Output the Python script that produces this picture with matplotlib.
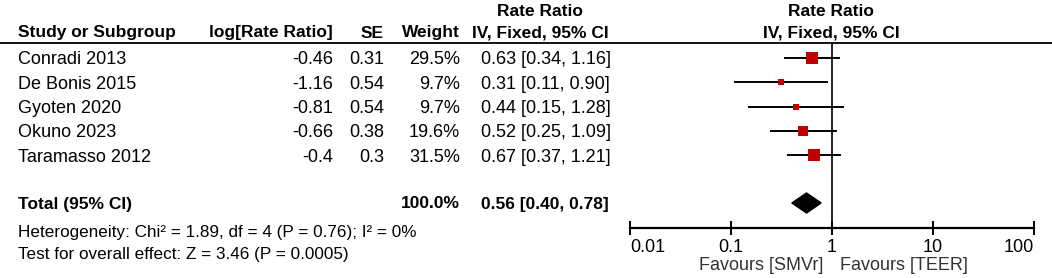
import matplotlib
matplotlib.use("Agg")
import matplotlib.pyplot as plt
import numpy as np

plt.rcParams["font.family"] = ["Liberation Sans", "DejaVu Sans"]

# study data
studies = ["Conradi 2013", "De Bonis 2015", "Gyoten 2020", "Okuno 2023", "Taramasso 2012"]
log_rr = ["-0.46", "-1.16", "-0.81", "-0.66", "-0.4"]
se = ["0.31", "0.54", "0.54", "0.38", "0.3"]
weight = [29.5, 9.7, 9.7, 19.6, 31.5]
rr = [0.63, 0.31, 0.44, 0.52, 0.67]
rr_lo = [0.34, 0.11, 0.15, 0.25, 0.37]
rr_hi = [1.16, 0.90, 1.28, 1.09, 1.21]

total_rr, total_lo, total_hi = 0.56, 0.40, 0.78
het_text = "Heterogeneity: Chi\u00b2 = 1.89, df = 4 (P = 0.76); I\u00b2 = 0%"
test_text = "Test for overall effect: Z = 3.46 (P = 0.0005)"
ticks = [0.01, 0.1, 1, 10, 100]
tick_labels = ["0.01", "0.1", "1", "10", "100"]

W, H = 1052, 278
fs = 13      # regular text
fsb = 12.5   # bold headers
fss = 12.3   # summary lines
red = "#c00000"

fig = plt.figure(figsize=(W / 100, H / 100), dpi=100)

# text layer, pixel-like coordinates
ax_t = fig.add_axes([0, 0, 1, 1])
ax_t.set_xlim(0, W)
ax_t.set_ylim(H, 0)
ax_t.axis("off")

# forest layer
top_px, bot_px = 43, 228
left_px, right_px = 630, 1034
ax_f = fig.add_axes([left_px / W, 1 - bot_px / H, (right_px - left_px) / W, (bot_px - top_px) / H])
ax_f.set_xscale("log")
ax_f.set_xlim(0.01, 100)
ax_f.set_ylim(bot_px, top_px)
ax_f.patch.set_alpha(0)

row_y = [58 + 24.25 * i for i in range(len(studies))]
total_y = 203

# headers
ax_t.text(540, 11, "Rate Ratio", fontsize=fsb, fontweight="bold", ha="center", va="center")
ax_t.text(831, 11, "Rate Ratio", fontsize=fsb, fontweight="bold", ha="center", va="center")
hy = 33
ax_t.text(18, hy, "Study or Subgroup", fontsize=fsb, fontweight="bold", ha="left", va="center")
ax_t.text(333, hy, "log[Rate Ratio]", fontsize=fsb, fontweight="bold", ha="right", va="center")
ax_t.text(384, hy, "SE", fontsize=fsb, fontweight="bold", ha="right", va="center")
ax_t.text(460, hy, "Weight", fontsize=fsb, fontweight="bold", ha="right", va="center")
ax_t.text(540, hy, "IV, Fixed, 95% CI", fontsize=fsb, fontweight="bold", ha="center", va="center")
ax_t.text(831, hy, "IV, Fixed, 95% CI", fontsize=fsb, fontweight="bold", ha="center", va="center")
ax_t.plot([0, W], [top_px, top_px], color="black", lw=1.3)

# study rows
for i, name in enumerate(studies):
    y = row_y[i] + 2
    ax_t.text(18, y, name, fontsize=fs, ha="left", va="center")
    ax_t.text(333, y, log_rr[i], fontsize=fs, ha="right", va="center")
    ax_t.text(384, y, se[i], fontsize=fs, ha="right", va="center")
    ax_t.text(460, y, "%.1f%%" % weight[i], fontsize=fs, ha="right", va="center")
    ax_t.text(481, y, "%.2f [%.2f, %.2f]" % (rr[i], rr_lo[i], rr_hi[i]), fontsize=fs, ha="left", va="center")

    ax_f.plot([rr_lo[i], rr_hi[i]], [row_y[i], row_y[i]], color="black", lw=1.4, zorder=2)
    side = 2.05 * np.sqrt(weight[i])
    ax_f.plot(rr[i], row_y[i], marker="s", color=red, markersize=side * 0.72, markeredgewidth=0, zorder=3)

# total row
ty = total_y + 1
ax_t.text(18, ty, "Total (95% CI)", fontsize=fsb, fontweight="bold", ha="left", va="center")
ax_t.text(460, ty, "%.1f%%" % sum(weight), fontsize=fsb, fontweight="bold", ha="right", va="center")
ax_t.text(481, ty, "%.2f [%.2f, %.2f]" % (total_rr, total_lo, total_hi), fontsize=fsb, fontweight="bold",
          ha="left", va="center")
ax_f.fill([total_lo, total_rr, total_hi, total_rr], [total_y, total_y - 10, total_y, total_y + 10],
          color="black", zorder=3)

ax_t.text(18, 232, het_text, fontsize=fss, ha="left", va="center")
ax_t.text(18, 255, test_text, fontsize=fss, ha="left", va="center")

# axis
ax_f.axvline(1, color="black", lw=1.2, zorder=1)
for s in ["top", "left", "right"]:
    ax_f.spines[s].set_visible(False)
ax_f.spines["bottom"].set_linewidth(1.6)
ax_f.set_yticks([])
ax_f.set_xticks(ticks)
ax_f.set_xticklabels(tick_labels, fontsize=fs)
ax_f.minorticks_off()
ax_f.tick_params(axis="x", direction="inout", length=10, width=1.4, pad=3)
labels = ax_f.get_xticklabels()
labels[0].set_horizontalalignment("left")
labels[-1].set_horizontalalignment("right")

ax_t.text(823, 265, "Favours [SMVr]", fontsize=fs, color="#333333", ha="right", va="center")
ax_t.text(840, 265, "Favours [TEER]", fontsize=fs, color="#333333", ha="left", va="center")

fig.savefig("out.png", dpi=100)
